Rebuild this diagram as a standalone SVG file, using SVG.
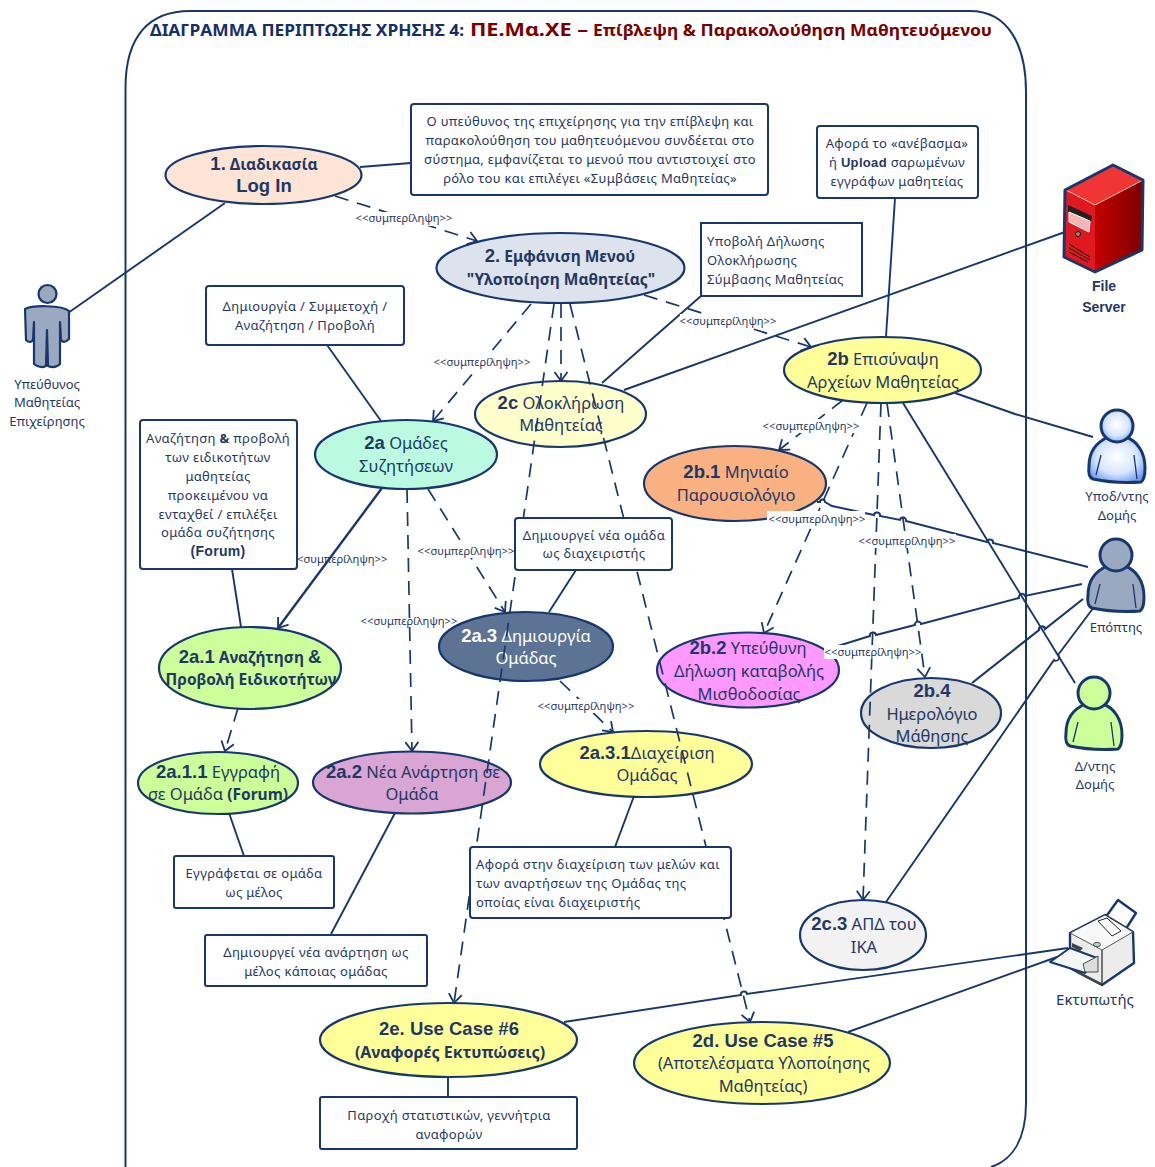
<svg xmlns="http://www.w3.org/2000/svg" width="1155" height="1167" viewBox="0 0 1155 1167">
<style>
text{font-family:"Noto Sans","Open Sans","DejaVu Sans",sans-serif;fill:#1f3864;text-anchor:middle}
.e{stroke:#17386f;stroke-width:2.2}
.n{fill:#fff;stroke:#17386f;stroke-width:2}
.t{font-size:16.5px}
.nt{font-size:13px;letter-spacing:.33px}
.lb{font-size:11.2px}
.a{font-size:13px}
.b{font-family:"Liberation Sans",Arial,sans-serif;font-weight:700;font-size:18.5px}
.bb{font-weight:700;font-size:15.5px}
.s{fill:none;stroke:#17386f;stroke-width:1.9}
.d{fill:none;stroke:#17386f;stroke-width:1.7;stroke-dasharray:14 9;marker-end:url(#open)}
.w{fill:#fff;stroke:none}
.act{stroke:#17386f;stroke-width:3;stroke-linejoin:round}
</style>
<defs>
<marker id="open" markerUnits="userSpaceOnUse" markerWidth="22" markerHeight="22" refX="14" refY="11" orient="auto">
<path d="M5 4.5L14 11L5 17.5" fill="none" stroke="#17386f" stroke-width="1.8"/>
</marker>
<radialGradient id="blue" cx="50%" cy="45%" r="60%"><stop offset="0" stop-color="#ffffff"/><stop offset="0.6" stop-color="#d8e6ff"/><stop offset="1" stop-color="#6f9fee"/></radialGradient>
<linearGradient id="side" x1="0" x2="1" y1="0" y2="0"><stop offset="0" stop-color="#c40000"/><stop offset="1" stop-color="#7d0000"/></linearGradient>
<g id="bust" class="act">
<path d="M-9 11C-20 16-28 24-28 40C-29 48-27 52-24 53C-10 56 10 57 24 56C27 54 28 50 28 42C28 26 20 15 9 11C4 16-4 16-9 11Z"/>
<circle r="16"/>
<path d="M-16 29L-21 49M17 29L20 53" fill="none" stroke-width="1.3"/>
</g>
</defs>

<path id="frame" d="M125.5 1167V88C125.5 35 150 11 190 11H970C1008 11 1026 45 1026 92V1103C1026 1140 1012 1160 991 1167" fill="none" stroke="#17386f" stroke-width="2"/>

<g id="title">
<text x="150" y="36" style="text-anchor:start;font-weight:700;font-size:16px;fill:#14306b" textLength="314" lengthAdjust="spacingAndGlyphs">ΔΙΑΓΡΑΜΜΑ ΠΕΡΙΠΤΩΣΗΣ ΧΡΗΣΗΣ 4:</text>
<text x="470" y="36" style="text-anchor:start;font-weight:700;font-size:18.5px;fill:#7a0000" textLength="118" lengthAdjust="spacingAndGlyphs">ΠΕ.Μα.ΧΕ –</text>
<text x="593" y="36" style="text-anchor:start;font-weight:700;font-size:16px;fill:#7a0000" textLength="399" lengthAdjust="spacingAndGlyphs">Επίβλεψη &amp; Παρακολούθηση Μαθητευόμενου</text>
</g>

<g id="uc1"><ellipse class="e" cx="263.5" cy="175" rx="98" ry="29" fill="#fde4d4"/><text x="264" y="170" class="bb"><tspan class="b">1.</tspan> Διαδικασία</text><text x="264" y="192" class="b">Log In</text></g>
<g id="uc2"><ellipse class="e" cx="560.5" cy="268" rx="124" ry="35" fill="#dde3ec"/><text x="560" y="262" class="bb"><tspan class="b">2.</tspan> Εμφάνιση Μενού</text><text x="561" y="285" class="bb">"Υλοποίηση Μαθητείας"</text></g>
<g id="uc2b"><ellipse class="e" cx="882.5" cy="370" rx="98.5" ry="33" fill="#ffff99"/><text x="883" y="365" class="t"><tspan class="b">2b</tspan> Επισύναψη</text><text x="883" y="388" class="t">Αρχείων Μαθητείας</text></g>
<g id="uc2c"><ellipse class="e" cx="560.5" cy="414" rx="85.5" ry="33" fill="#ffffcc"/><text x="561" y="409" class="t"><tspan class="b">2c</tspan> Ολοκλήρωση</text><text x="561" y="431" class="t">Μαθητείας</text></g>
<g id="uc2a"><ellipse class="e" cx="406" cy="454.5" rx="91" ry="34.5" fill="#bbfae0"/><text x="406" y="449" class="t"><tspan class="b">2a</tspan> Ομάδες</text><text x="406" y="472" class="t">Συζητήσεων</text></g>
<g id="uc2a1"><ellipse class="e" cx="250" cy="668" rx="91" ry="41" fill="#ccff99"/><text x="250" y="663" class="bb"><tspan class="b">2a.1</tspan> Αναζήτηση <tspan class="b">&amp;</tspan></text><text x="251" y="685" class="bb">Προβολή Ειδικοτήτων</text></g>
<g id="uc2a11"><ellipse class="e" cx="218" cy="783" rx="80" ry="31" fill="#ccff99"/><text x="218" y="778" class="t"><tspan class="b">2a.1.1</tspan> Εγγραφή</text><text x="218" y="800" class="t">σε Ομάδα <tspan class="bb">(Forum)</tspan></text></g>
<g id="uc2a2"><ellipse class="e" cx="412" cy="782.5" rx="99" ry="31" fill="#d9a5d3"/><text x="413" y="778" class="t"><tspan class="b">2a.2</tspan> Νέα Ανάρτηση  σε</text><text x="412" y="800" class="t">Ομάδα</text></g>
<g id="uc2a3"><ellipse class="e" cx="526" cy="646.5" rx="87" ry="34.5" fill="#5d7393"/><text x="526" y="642" class="t" style="fill:#fff"><tspan class="b" style="fill:#fff">2a.3</tspan> Δημιουργία</text><text x="526" y="664" class="t" style="fill:#fff">Ομάδας</text></g>
<g id="uc2a31"><ellipse class="e" cx="646" cy="764" rx="106" ry="33" fill="#ffff99"/><text x="647" y="759" class="t"><tspan class="b">2a.3.1</tspan>Διαχείριση</text><text x="647" y="781" class="t">Ομάδας</text></g>
<g id="uc2b1"><ellipse class="e" cx="735" cy="483.5" rx="91" ry="37.5" fill="#fab182"/><text x="736" y="478" class="t"><tspan class="b">2b.1</tspan> Μηνιαίο</text><text x="736" y="501" class="t">Παρουσιολόγιο</text></g>
<g id="uc2b2"><ellipse class="e" cx="748" cy="670" rx="91" ry="37.5" fill="#ff99ff"/><text x="748" y="654" class="t"><tspan class="b">2b.2</tspan> Υπεύθυνη</text><text x="749" y="677" class="t">Δήλωση καταβολής</text><text x="749" y="700" class="t">Μισθοδοσίας</text></g>
<g id="uc2b4"><ellipse class="e" cx="931" cy="713" rx="70" ry="35" fill="#d9d9d9"/><text x="932" y="697" class="b">2b.4</text><text x="932" y="720" class="t">Ημερολόγιο</text><text x="932" y="742" class="t">Μάθησης</text></g>
<g id="uc2c3"><ellipse class="e" cx="863" cy="935" rx="63" ry="35" fill="#f2f2f2"/><text x="864" y="930" class="t"><tspan class="b">2c.3</tspan> ΑΠΔ του</text><text x="864" y="953" class="t">ΙΚΑ</text></g>
<g id="uc2e"><ellipse class="e" cx="448.5" cy="1040" rx="128.5" ry="37" fill="#ffff99"/><text x="449" y="1035" class="b">2e. Use Case #6</text><text x="450" y="1058" class="bb" style="font-size:16px">(Αναφορές Εκτυπώσεις)</text></g>
<g id="uc2d"><ellipse class="e" cx="762" cy="1063" rx="128" ry="41" fill="#ffff99"/><text x="763" y="1047" class="b">2d. Use Case #5</text><text x="764" y="1069" class="t">(Αποτελέσματα Υλοποίησης</text><text x="763" y="1092" class="t">Μαθητείας)</text></g>

<g id="connectors">
<path class="s" d="M68 313L225 203"/>
<path class="s" d="M360 167L411 163"/>
<path class="s" d="M327 345L381 421"/>
<path class="s" d="M232 569L241 627"/>
<path class="s" d="M382 488L278 628" marker-end="url(#open)" style="stroke-width:2.4"/>
<path class="s" d="M701 296L653 338L602 383"/>
<path class="s" d="M1065 232L624 390"/>
<path class="s" d="M895 198L886 337"/>
<path class="s" d="M955 393L1015 414L1093 437"/>
<path class="s" d="M903 403L1075 683"/>
<path class="s" d="M817 502L820 502a2.5 2.5 0 0 1 5 0L832 506L874 515a3 3 0 0 1 6 1L900 520a3 3 0 0 1 6 1L987 542a3 3 0 0 1 6 1L1088 567"/>
<path class="s" d="M825 650L870 636a3 3 0 0 1 6-1L915 625a3 3 0 0 1 6-1L1019 598a3 3 0 0 1 6-2L1082 584"/>
<path class="s" d="M972 683L1039 630a3 3 0 0 1 6-1L1083 599" style="stroke-width:2.2"/>
<path class="s" d="M886 902L1054 660a3 3 0 0 0 4-5L1094 607"/>
<path class="s" d="M564 1022L741 995a3 3 0 0 1 6-1L1068 948"/>
<path class="s" d="M848 1032L1057 957"/>
<path class="s" d="M229 813L244 856"/>
<path class="s" d="M395 813L331 934"/>
<path class="s" d="M634 796L615 847"/>
<path class="s" d="M549 612L576 570"/>
<path class="s" d="M448 1077V1097"/>
<path class="d" d="M335 196L477 241"/>
<path class="d" d="M644 295L811 347"/>
<path class="d" d="M531 304L433 421"/>
<path class="d" d="M554 304L454 1003"/>
<path class="d" d="M561 304V381"/>
<path class="d" d="M570 304L750 1022"/>
<path class="d" d="M407 489L412 751"/>
<path class="d" d="M428 489L505 612"/>
<path class="d" d="M238 708L225 751"/>
<path class="d" d="M560 681L613 732"/>
<path class="d" d="M843 400L779 450"/>
<path class="d" d="M867 403L764 633"/>
<path class="d" d="M881 403L863 900"/>
<path class="d" d="M887 403L925 677"/>
</g>

<g id="labels">
<rect class="w" x="356" y="212" width="97" height="14"/><text x="404" y="222" class="lb">&lt;&lt;συμπερίληψη&gt;&gt;</text>
<rect class="w" x="680" y="314" width="97" height="14"/><text x="728" y="325" class="lb">&lt;&lt;συμπερίληψη&gt;&gt;</text>
<rect class="w" x="434" y="355" width="97" height="14"/><text x="482" y="366" class="lb">&lt;&lt;συμπερίληψη&gt;&gt;</text>
<text x="339" y="563" class="lb">&lt;&lt;συμπερίληψη&gt;&gt;</text>
<rect class="w" x="418" y="544" width="97" height="14"/><text x="466" y="555" class="lb">&lt;&lt;συμπερίληψη&gt;&gt;</text>
<text x="409" y="625" class="lb">&lt;&lt;συμπερίληψη&gt;&gt;</text>
<rect class="w" x="538" y="699" width="97" height="14"/><text x="586" y="710" class="lb">&lt;&lt;συμπερίληψη&gt;&gt;</text>
<rect class="w" x="762" y="419" width="97" height="14"/><text x="811" y="430" class="lb">&lt;&lt;συμπερίληψη&gt;&gt;</text>
<rect class="w" x="767" y="511" width="98" height="16"/><text x="817" y="523" class="lb">&lt;&lt;συμπερίληψη&gt;&gt;</text>
<rect class="w" x="859" y="534" width="97" height="14"/><text x="907" y="545" class="lb">&lt;&lt;συμπερίληψη&gt;&gt;</text>
<rect class="w" x="824" y="645" width="97" height="14"/><text x="873" y="656" class="lb">&lt;&lt;συμπερίληψη&gt;&gt;</text>
</g>

<g id="noteA"><rect class="n" x="411" y="104" width="357" height="91" rx="3"/><text class="nt" x="590" y="126">Ο υπεύθυνος της επιχείρησης για την επίβλεψη και</text><text class="nt" x="590" y="145">παρακολούθηση του μαθητευόμενου συνδέεται στο</text><text class="nt" x="590" y="164">σύστημα, εμφανίζεται το μενού που αντιστοιχεί στο</text><text class="nt" x="590" y="183">ρόλο του και επιλέγει «Συμβάσεις Μαθητείας»</text></g>
<g id="noteB"><rect class="n" x="817" y="126" width="161" height="72" rx="3"/><text class="nt" x="897" y="148">Αφορά το «ανέβασμα»</text><text class="nt" x="897" y="167">ή <tspan font-weight="700" style="font-family:'Liberation Sans'">Upload</tspan> σαρωμένων</text><text class="nt" x="897" y="186">εγγράφων μαθητείας</text></g>
<g id="noteC"><rect class="n" x="701" y="223" width="161" height="73"/><text class="nt" x="707" y="246" style="text-anchor:start">Υποβολή Δήλωσης</text><text class="nt" x="707" y="265" style="text-anchor:start">Ολοκλήρωσης</text><text class="nt" x="707" y="284" style="text-anchor:start">Σύμβασης Μαθητείας</text></g>
<g id="noteD"><rect class="n" x="206" y="286" width="198" height="59" rx="3"/><text class="nt" x="305" y="311">Δημιουργία / Συμμετοχή /</text><text class="nt" x="305" y="330">Αναζήτηση / Προβολή</text></g>
<g id="noteE"><rect class="n" x="140" y="420" width="157" height="149" rx="3"/><text class="nt" x="218" y="443">Αναζήτηση <tspan font-weight="700">&amp;</tspan> προβολή</text><text class="nt" x="218" y="462">των ειδικοτήτων</text><text class="nt" x="218" y="481">μαθητείας</text><text class="nt" x="218" y="500">προκειμένου να</text><text class="nt" x="218" y="519">ενταχθεί / επιλέξει</text><text class="nt" x="218" y="537">ομάδα συζήτησης</text><text class="nt" x="218" y="556" font-weight="700" style="font-family:'Liberation Sans';font-size:14px">(Forum)</text></g>
<g id="noteF"><rect class="n" x="515" y="518" width="157" height="52" rx="3"/><text class="nt" x="594" y="540">Δημιουργεί νέα ομάδα</text><text class="nt" x="594" y="558">ως διαχειριστής</text></g>
<g id="noteG"><rect class="n" x="174" y="856" width="160" height="52" rx="2"/><text class="nt" x="254" y="878">Εγγράφεται σε ομάδα</text><text class="nt" x="254" y="897">ως μέλος</text></g>
<g id="noteH"><rect class="n" x="205" y="935" width="222" height="51" rx="2"/><text class="nt" x="316" y="957">Δημιουργεί νέα ανάρτηση ως</text><text class="nt" x="316" y="976">μέλος κάποιας ομάδας</text></g>
<g id="noteI"><rect class="n" x="470" y="847" width="261" height="71" rx="3"/><text class="nt" x="476" y="869" style="text-anchor:start">Αφορά στην διαχείριση των μελών και</text><text class="nt" x="476" y="888" style="text-anchor:start">των αναρτήσεων της Ομάδας της</text><text class="nt" x="476" y="907" style="text-anchor:start">οποίας είναι διαχειριστής</text></g>
<g id="noteJ"><rect class="n" x="320" y="1097" width="257" height="52" rx="2"/><text class="nt" x="449" y="1120">Παροχή στατιστικών, γεννήτρια</text><text class="nt" x="449" y="1139">αναφορών</text></g>

<g id="actor1">
<g class="act" fill="#9aa9bf" style="stroke-width:2.2"><circle cx="47.5" cy="294" r="9"/><path d="M25 309C32 305 62 305 69 311L69 339Q64 344 61 340L60 322L60 364Q55 369 48 366L47 330L46 366Q40 369 34 364L34 322L33 340Q30 344 26 340Z"/></g>
<text class="a" x="47" y="389">Υπεύθυνος</text><text class="a" x="47" y="407">Μαθητείας</text><text class="a" x="47" y="426">Επιχείρησης</text>
</g>
<g id="actor2"><use href="#bust" transform="translate(1117 426)" fill="url(#blue)"/><text class="a" x="1117" y="501">Υποδ/ντης</text><text class="a" x="1117" y="520">Δομής</text></g>
<g id="actor3"><use href="#bust" transform="translate(1116 555)" fill="#9aa9bf"/><text class="a" x="1116" y="632">Επόπτης</text></g>
<g id="actor4"><use href="#bust" transform="translate(1094 693)" fill="#ccff99"/><text class="a" x="1095" y="771">Δ/ντης</text><text class="a" x="1095" y="789">Δομής</text></g>

<g id="server">
<path d="M1065 190L1113 165L1143 180L1142 250L1095 272L1064 257Z" fill="#e01820"/>
<path d="M1095 205L1143 180L1142 250L1095 272Z" fill="url(#side)"/>
<path d="M1066 190L1113 166L1142 180L1095 205Z" fill="#f03535"/>
<path d="M1066 190L1095 205M1095 205L1143 180" stroke="#f6c8b0" stroke-width="1" fill="none"/>
<path d="M1068 205L1092 216L1091 222L1068 212Z" fill="#222"/>
<path d="M1069 212L1090 221L1089 232L1069 222Z" fill="#f4b5b5" stroke="#fff" stroke-width="1"/>
<circle cx="1078" cy="234" r="2.5" fill="#7a9a70" stroke="#111"/>
<path d="M1069 244L1090 257M1069 248L1090 260M1069 252L1088 262" stroke="#111" stroke-width="1" fill="none"/>
<path d="M1065 190L1113 165L1143 180L1142 250L1095 272L1064 257Z" fill="none" class="act"/>
<text x="1104" y="291" style="font-family:'Liberation Sans';font-weight:700;font-size:14px">File</text>
<text x="1104" y="312" style="font-family:'Liberation Sans';font-weight:700;font-size:14px">Server</text>
</g>

<g id="printer">
<path d="M1118 900L1136 913L1122 935L1105 918Z" fill="#fff" class="act" style="stroke-width:2.4"/>
<path d="M1070 933L1105 915L1133 932L1134 963L1102 985L1070 968Z" fill="#ececec" class="act" style="stroke-width:2.4"/>
<path d="M1070 933L1102 950L1133 932L1105 915Z" fill="#f8f8f8" stroke="#333" stroke-width="0.8"/>
<path d="M1102 950V985" stroke="#222" stroke-width="1.2"/>
<path d="M1098 921L1112 936L1121 931L1107 918Z" fill="#fff" stroke="#222" stroke-width="1"/>
<ellipse cx="1097" cy="944.5" rx="3.5" ry="2.2" fill="#a8d5c8" stroke="#222" stroke-width="0.7"/>
<path d="M1072 943L1083 948L1080 951L1072 947Z" fill="#444"/>
<path d="M1050 962L1070 948L1097 958L1085 973Z" fill="#f5f5f5" class="act" style="stroke-width:2"/>
<path d="M1083 964L1098 956V972L1085 972Z" fill="#ddd" stroke="#222" stroke-width="0.8"/>
<path d="M1077 972L1101 984" stroke="#444" stroke-width="2.5"/>
<text x="1095" y="1005" style="font-size:15px">Εκτυπωτής</text>
</g>
</svg>
